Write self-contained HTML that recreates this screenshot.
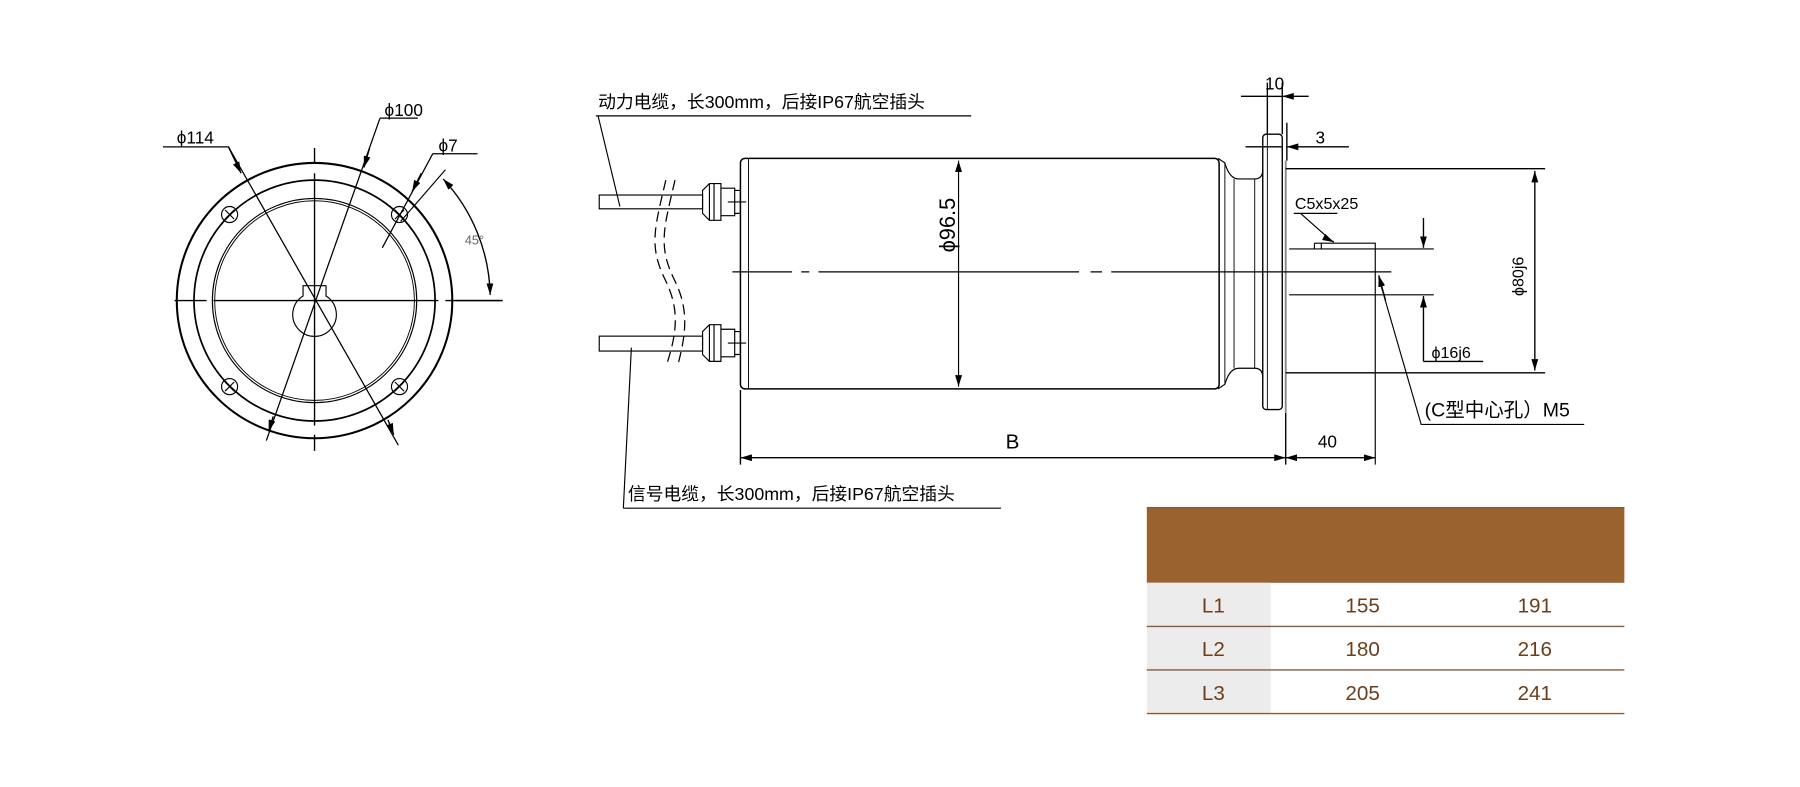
<!DOCTYPE html>
<html><head><meta charset="utf-8"><style>
html,body{margin:0;padding:0;background:#fff;}
svg{display:block}
text{font-family:"Liberation Sans","Noto Sans CJK SC",sans-serif;}
</style></head><body>
<svg width="1800" height="787" viewBox="0 0 1568 686" preserveAspectRatio="none" xmlns="http://www.w3.org/2000/svg">
<defs>
<marker id="a" viewBox="0 0 10 6" refX="10" refY="3" markerWidth="10" markerHeight="6" orient="auto-start-reverse" markerUnits="userSpaceOnUse"><path d="M0,0 L10,3 L0,6z" fill="#000"/></marker>
</defs>
<g fill="none" stroke="#000" stroke-width="1.2">
<!-- LEFT VIEW -->
<g transform="translate(2,1)">
<circle cx="272" cy="261" r="120" stroke-width="1.8"/>
<circle cx="272" cy="261" r="105" stroke-width="1.5"/>
<circle cx="272" cy="261" r="89" stroke-width="1"/>
<circle cx="272" cy="261" r="87" stroke-width="0.8"/>
<path d="M262,257 A19,19 0 1 0 282,257 L282,248 L262,248 Z" stroke-width="1"/>
<path d="M150,261 H178 M184,261 H380 M386,261 H435" />
<path d="M272,128 V142 M272,150 V370 M272,378 V392" />
<g stroke-width="1">
<circle cx="198" cy="186" r="7"/><path d="M194,182 l8,8 M202,182 l-8,8"/>
<circle cx="346" cy="186" r="7"/><path d="M342,182 l8,8 M350,182 l-8,8"/>
<circle cx="198" cy="336" r="7"/><path d="M194,332 l8,8 M202,332 l-8,8"/>
<circle cx="346" cy="336" r="7"/><path d="M342,332 l8,8 M350,332 l-8,8"/>
</g>
<path d="M140,127 H197 L345,387" stroke-width="1.1"/>
<path d="M197,127 L208,150" marker-end="url(#a)"/>
<path d="M336,365 L341,378" marker-end="url(#a)"/>
<path d="M329,102 H362 M329,102 L230,383" stroke-width="1.1"/>
<path d="M320,128 L315,145" marker-end="url(#a)"/>
<path d="M236,362 L232,375" marker-end="url(#a)"/>
<path d="M375,133 H414 M375,133 L331,215" stroke-width="1.1"/>
<path d="M365,150 L357,166" marker-end="url(#a)"/>
<path d="M347,192 L386,147" stroke-width="1"/>
<path d="M384,155 A153,153 0 0 1 425,256" marker-start="url(#a)" marker-end="url(#a)"/>
<path d="M395,261 H436" />
</g>
<!-- MAIN VIEW -->
<rect x="645" y="138" width="417" height="201" rx="4" stroke-width="1.3"/>
<path d="M652,138 V339" stroke-width="0.8"/>
<g transform="translate(5,0)">
<path d="M1056,138 L1062,142 Q1066,156 1074,156 H1088 Q1095,156 1095,148 M1056,339 L1062,335 Q1066,321 1074,321 H1088 Q1095,321 1095,329" stroke-width="1"/>
<path d="M1062,142 V335 M1070,156 V321 M1088,156 V321" stroke-width="0.8"/>
<rect x="1095" y="117" width="17" height="240" rx="3" stroke-width="1.2"/>
<path d="M1099,117 V357" stroke-width="0.8"/>
<path d="M1115,140 V360" stroke="#888" stroke-width="1.6"/>
<path d="M1115,147 H1341 M1115,325 H1341" />
<path d="M1118,217 H1244 M1118,257 H1244" stroke-width="1"/>
<path d="M1140,212 H1193 V405 M1140,212 V217 M1146,212 V217" stroke-width="1"/>
<path d="M1099,72 V117 M1112,72 V117 M1116,107 V140"/>
<path d="M1076,84 H1099 M1135,84 H1112" marker-end="url(#a)"/>
<path d="M1099,84 H1112"/>
<path d="M1080,128 H1112 M1170,128 H1116" marker-end="url(#a)"/>
<path d="M1115,360 V405"/>
<path d="M1115,399 H1193" marker-start="url(#a)" marker-end="url(#a)"/>
<path d="M1122,186 H1160 M1128,186 L1155,210" stroke-width="1"/>
<path d="M1155,210 L1157,211" marker-end="url(#a)"/>
<path d="M1202,262 L1196,240" marker-end="url(#a)"/>
</g>
<path d="M638,237 H690 M698,237 H705 M713,237 H940 M950,237 H960 M968,237 H1212" stroke-width="1.1"/>
<path d="M835,140 V337" stroke-width="1" marker-start="url(#a)" marker-end="url(#a)"/>
<path d="M1337,149 V323" marker-start="url(#a)" marker-end="url(#a)"/>
<path d="M1240,190 V216" marker-end="url(#a)"/>
<path d="M1240,315 V258" marker-end="url(#a)"/>
<path d="M1240,315 H1292" />
<path d="M1380,370 H1238 L1201,242" stroke-width="1"/>
<!-- bottom dims -->
<path d="M645,340 V405"/>
<path d="M645,399 H1120" marker-start="url(#a)" marker-end="url(#a)"/>
<!-- cables -->
<rect x="522" y="170" width="90" height="12" stroke-width="1"/>
<rect x="522" y="293" width="90" height="13" stroke-width="1"/>
<g stroke-width="1">
<path d="M612,166 L618,160 H628 V192 H618 L612,186 Z M618,160 V192 M622,160 V192"/>
<path d="M628,164 H640 V188 H628 M640,166 H645 V186 H640 M634,176 H650"/>
<path d="M612,289 L618,283 H628 V315 H618 L612,309 Z M618,283 V315 M622,283 V315"/>
<path d="M628,287 H640 V311 H628 M640,289 H645 V309 H640 M634,299 H650"/>
</g>
<path d="M580,157 C570,200 565,215 580,245 C592,270 590,290 580,320 M588,157 C578,200 573,215 588,245 C600,270 598,290 590,320" stroke-width="1.1" stroke-dasharray="9,5"/>
<path d="M519,101 H846 M521,101 L540,180" stroke-width="1"/>
<path d="M543,443 H872 M543,443 L550,303" stroke-width="1"/>
</g>
<!-- TABLE -->
<rect x="999" y="442" width="416" height="66" fill="#9a622e"/>
<rect x="999" y="508" width="108" height="114" fill="#ececec"/>
<g stroke="#8a5a33" stroke-width="1.2">
<path d="M999,546 H1415 M999,584 H1415 M999,622 H1415 M999,442.5 H1415"/>
</g>
<g font-size="18" fill="#6b3f1e" text-anchor="middle">
<text x="1057" y="534">L1</text><text x="1187" y="534">155</text><text x="1337" y="534">191</text>
<text x="1057" y="572">L2</text><text x="1187" y="572">180</text><text x="1337" y="572">216</text>
<text x="1057" y="610">L3</text><text x="1187" y="610">205</text><text x="1337" y="610">241</text>
</g>
<g font-size="15" fill="#000">
<text x="154" y="125">ϕ114</text>
<text x="335" y="101">ϕ100</text>
<text x="382" y="132">ϕ7</text>
<text x="405" y="213" font-size="11" fill="#666">45°</text>
<text x="521" y="94" font-size="15.5">动力电缆，长300mm，后接IP67航空插头</text>
<text x="547" y="436" font-size="15.5">信号电缆，长300mm，后接IP67航空插头</text>
<text x="832" y="220" font-size="19" transform="rotate(-90 832 220)">ϕ96.5</text>
<text x="1102" y="78">10</text>
<text x="1146" y="125">3</text>
<text x="1128" y="182" font-size="14">C5x5x25</text>
<text x="1247" y="312" font-size="14">ϕ16j6</text>
<text x="1327" y="258" font-size="14" transform="rotate(-90 1327 258)">ϕ80j6</text>
<text x="1241" y="363" font-size="17">(C型中心孔）M5</text>
<text x="876" y="391" font-size="18">B</text>
<text x="1148" y="390">40</text>
</g>
</svg>
</body></html>
